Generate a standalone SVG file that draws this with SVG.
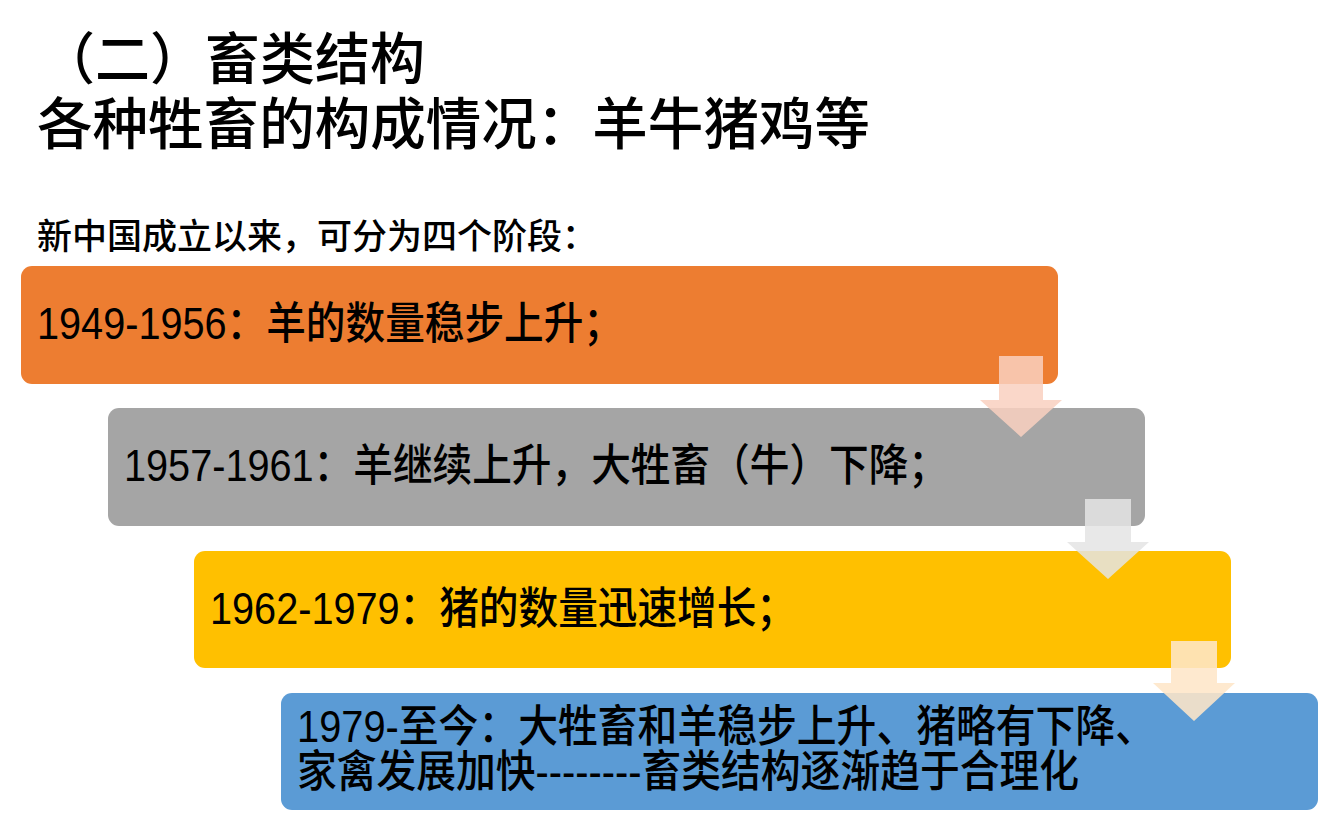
<svg xmlns="http://www.w3.org/2000/svg" width="1322" height="826" viewBox="0 0 1322 826">
  <style>
    .t { font-family: "Liberation Sans", "Noto Sans CJK SC", sans-serif; fill: #000; font-weight: 500; }
    .h { font-size: 56px; }
    .s { font-size: 35px; }
    .b { font-size: 44px; }
    .arrow { stroke: none; }
  </style>
  <rect width="1322" height="826" fill="#ffffff"/>
  <g id="title">
    <text class="t h" x="40" y="79" textLength="385" lengthAdjust="spacingAndGlyphs">（二）畜类结构</text>
    <text class="t h" x="37" y="144" textLength="833" lengthAdjust="spacingAndGlyphs">各种牲畜的构成情况：羊牛猪鸡等</text>
  </g>
  <g id="subtitle">
    <text class="t s" x="37" y="249" textLength="560" lengthAdjust="spacingAndGlyphs">新中国成立以来，可分为四个阶段：</text>
  </g>
  <g id="stage1">
    <rect x="21" y="266" width="1037" height="118" rx="11" fill="#ED7D31"/>
    <text class="t b" x="37" y="339" textLength="586" lengthAdjust="spacingAndGlyphs">1949-1956：羊的数量稳步上升；</text>
  </g>
  <g id="stage2">
    <rect x="108" y="408" width="1037" height="118" rx="11" fill="#A5A5A5"/>
    <text class="t b" x="124" y="481" textLength="824" lengthAdjust="spacingAndGlyphs">1957-1961：羊继续上升，大牲畜（牛）下降；</text>
  </g>
  <g id="stage3">
    <rect x="194" y="551" width="1037" height="117" rx="11" fill="#FFC000"/>
    <text class="t b" x="210" y="624" textLength="586" lengthAdjust="spacingAndGlyphs">1962-1979：猪的数量迅速增长；</text>
  </g>
  <g id="stage4">
    <rect x="281" y="693" width="1037" height="117" rx="11" fill="#5B9BD5"/>
    <text class="t b" x="297" y="742" textLength="858" lengthAdjust="spacingAndGlyphs">1979-至今：大牲畜和羊稳步上升、猪略有下降、</text>
    <text class="t b" x="297" y="787" textLength="782" lengthAdjust="spacingAndGlyphs">家禽发展加快--------畜类结构逐渐趋于合理化</text>
  </g>
  <g id="connectors">
    <polygon class="arrow" points="999,356 1043,356 1043,400 1062,400 1021,437 980,400 999,400" fill="#F9D0C0" fill-opacity="0.85"/>
    <polygon class="arrow" points="1085,499 1131,499 1131,542 1149,542 1108,579 1067,542 1085,542" fill="#E4E4E4" fill-opacity="0.85"/>
    <polygon class="arrow" points="1171,641 1217,641 1217,683 1235,683 1194,721 1153,683 1171,683" fill="#FEE6C8" fill-opacity="0.88"/>
  </g>
</svg>
